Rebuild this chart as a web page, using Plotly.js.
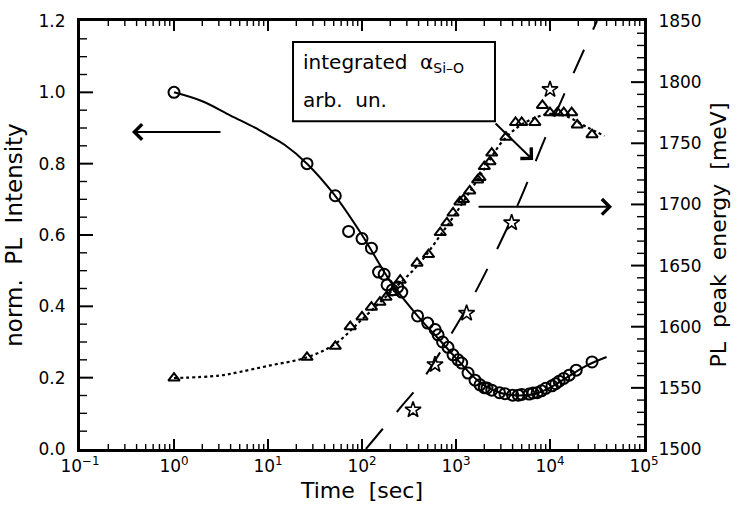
<!DOCTYPE html>
<html>
<head>
<meta charset="utf-8">
<script src="https://cdn.plot.ly/plotly-3.0.1.min.js"></script>
<style>
  html, body { margin: 0; padding: 0; background: #fff; }
  #chart { width: 746px; height: 517px; }
</style>
</head>
<body>
<div id="chart"></div>
<script>
// ---- data ----
const tCircle = [1, 26, 52, 72, 100, 126, 150, 172, 185, 210, 240, 265, 390, 500, 600, 645, 720, 822, 930, 1050, 1150, 1343, 1593, 1800, 2000, 2138, 2400, 2900, 3320, 4000, 4600, 5000, 6000, 6600, 7300, 8100, 9000, 10500, 11500, 12500, 14000, 16000, 19000, 28000];
const intensityCircle = [1.00, 0.80, 0.71, 0.61, 0.59, 0.563, 0.496, 0.49, 0.46, 0.446, 0.454, 0.44, 0.373, 0.353, 0.335, 0.32, 0.30, 0.285, 0.264, 0.25, 0.241, 0.213, 0.193, 0.18, 0.172, 0.171, 0.165, 0.158, 0.155, 0.151, 0.151, 0.153, 0.154, 0.157, 0.158, 0.163, 0.17, 0.177, 0.183, 0.19, 0.198, 0.207, 0.221, 0.244];

const tFitIntensity = [1, 2, 4, 8, 10, 15, 26, 50, 100, 200, 400, 700, 1000, 1500, 2000, 3000, 4500, 7000, 10000, 15000, 25000, 40000];
const fitIntensity = [1.0, 0.975, 0.935, 0.895, 0.88, 0.853, 0.80, 0.715, 0.60, 0.47, 0.37, 0.30, 0.255, 0.205, 0.178, 0.157, 0.150, 0.155, 0.172, 0.200, 0.235, 0.258];

const tTriangle = [1, 26, 52, 75, 100, 126, 155, 180, 215, 255, 385, 510, 680, 800, 930, 1100, 1200, 1400, 1700, 1800, 2000, 2300, 2400, 3400, 4300, 5000, 6900, 8300, 10000, 12000, 14000, 17000, 19500, 28000];
const energyTriangle = [1558, 1575, 1584, 1600, 1608, 1616, 1620, 1624, 1628, 1638, 1652, 1659, 1677, 1685, 1693, 1702, 1704, 1711, 1720, 1722, 1731, 1735, 1742, 1755, 1767, 1767, 1767, 1781, 1775, 1775, 1775, 1775, 1765, 1757];

const tFitEnergy = [1, 3, 5, 10, 26, 52, 100, 200, 400, 700, 1000, 1500, 2000, 3000, 4500, 7000, 10000, 15000, 25000, 38000];
const fitEnergy = [1558, 1560, 1563, 1568, 1575, 1586, 1606, 1628, 1651, 1676, 1693, 1714, 1729, 1750, 1763, 1771, 1774, 1772, 1763, 1756];

const tStar = [349, 598, 1297, 3909, 10000];
const energyStar = [1532, 1569, 1611, 1685, 1794];

const tDashed = [110, 264, 397, 906, 1552, 2800, 4800, 8850, 15520, 31600];
const energyDashed = [1500, 1535, 1551.5, 1595, 1626, 1665, 1704, 1754, 1797, 1850];

const xTickVals = [0.1, 1, 10, 100, 1000, 10000, 100000];
const xTickText = ['10<sup>\u22121</sup>', '10<sup>0</sup>', '10<sup>1</sup>', '10<sup>2</sup>', '10<sup>3</sup>', '10<sup>4</sup>', '10<sup>5</sup>'];
const yTickVals = [0, 0.2, 0.4, 0.6, 0.8, 1.0, 1.2];
const y2TickVals = [1500, 1550, 1600, 1650, 1700, 1750, 1800, 1850];

const FONT = 'DejaVu Sans, Arial, sans-serif';

// ---- tick-mark positions (axis decoration; half of each marker is clipped at the frame) ----
const xMajorPos = [1, 10, 100, 1000, 10000];
const xMinorPos = [];
for (let d = -1; d < 5; d++) for (let k = 2; k <= 9; k++) xMinorPos.push(k * Math.pow(10, d));
const yMajorPos = [0.2, 0.4, 0.6, 0.8, 1.0];
const yMinorPos = [];
for (let i = 1; i < 24; i++) if (i % 4 !== 0) yMinorPos.push(i * 0.05);
const y2MajorPos = [1550, 1600, 1650, 1700, 1750, 1800];
const y2MinorPos = [];
for (let v = 1510; v < 1850; v += 10) if (v % 50 !== 0) y2MinorPos.push(v);

function tickTrace(xs, ys, yaxis, symbol, size, width) {
  return { x: xs, y: ys, yaxis: yaxis, mode: 'markers', hoverinfo: 'skip', cliponaxis: true,
    marker: { symbol: symbol, size: size, color: '#000', line: { color: '#000', width: width } } };
}
const both = a => a.concat(a);
const edge = (a, lo, hi) => a.map(() => lo).concat(a.map(() => hi));

const tickTraces = [
  tickTrace(both(xMajorPos), edge(xMajorPos, 0, 1.2), 'y', 'line-ns-open', 14.3, 2),
  tickTrace(both(xMinorPos), edge(xMinorPos, 0, 1.2), 'y', 'line-ns-open', 7.2, 1.4),
  tickTrace(yMajorPos.map(() => 0.1), yMajorPos, 'y', 'line-ew-open', 18.6, 2),
  tickTrace(yMinorPos.map(() => 0.1), yMinorPos, 'y', 'line-ew-open', 10, 1.4),
  tickTrace(y2MajorPos.map(() => 100000), y2MajorPos, 'y2', 'line-ew-open', 18.6, 2),
  tickTrace(y2MinorPos.map(() => 100000), y2MinorPos, 'y2', 'line-ew-open', 10, 1.4)
];

const traces = [
  { x: tFitIntensity, y: fitIntensity, mode: 'lines', yaxis: 'y',
    line: { color: '#000', width: 2, shape: 'spline' }, hoverinfo: 'skip' },
  { x: tCircle, y: intensityCircle, mode: 'markers', yaxis: 'y',
    marker: { symbol: 'circle-open', size: 11, color: '#000', line: { width: 2, color: '#000' } } },
  { x: tFitEnergy, y: fitEnergy, mode: 'lines', yaxis: 'y2',
    line: { color: '#000', width: 2.2, dash: 'dot', shape: 'spline' }, hoverinfo: 'skip' },
  { x: tTriangle, y: energyTriangle, mode: 'markers', yaxis: 'y2',
    marker: { symbol: 'triangle-up-open', size: 10, color: '#000', line: { width: 2, color: '#000' } } },
  { x: tDashed, y: energyDashed, mode: 'lines', yaxis: 'y2',
    line: { color: '#000', width: 2, dash: '26px,22px', shape: 'spline' }, hoverinfo: 'skip' },
  { x: tStar, y: energyStar, mode: 'markers', yaxis: 'y2',
    marker: { symbol: 'star-open', size: 12, color: '#000', line: { width: 1.6, color: '#000' } } }
].concat(tickTraces);

const layout = {
  width: 746, height: 517,
  margin: { l: 80, r: 102, t: 21, b: 68, pad: 0 },
  paper_bgcolor: '#fff', plot_bgcolor: '#fff',
  showlegend: false,
  font: { family: FONT, color: '#000', size: 17 },
  xaxis: {
    type: 'log', range: [-1, 5],
    tickmode: 'array', tickvals: xTickVals, ticktext: xTickText, ticks: '',
    showline: true, linewidth: 3, linecolor: '#000', mirror: true,
    showgrid: false, zeroline: false,
    tickfont: { family: FONT, size: 17 },
    title: { text: 'Time  [sec]', font: { family: FONT, size: 22 }, standoff: 8 }
  },
  yaxis: {
    range: [0, 1.2], tickmode: 'array', tickvals: yTickVals, tickformat: '.1f', ticks: '',
    ticklabelstandoff: 8,
    showline: true, linewidth: 3, linecolor: '#000',
    showgrid: false, zeroline: false,
    tickfont: { family: FONT, size: 17 },
    title: { text: 'norm.  PL  Intensity', font: { family: FONT, size: 23 }, standoff: 10 }
  },
  yaxis2: {
    overlaying: 'y', side: 'right', anchor: 'x',
    range: [1500, 1850], tickmode: 'array', tickvals: y2TickVals, ticks: '',
    ticklabelstandoff: 8,
    showline: true, linewidth: 3, linecolor: '#000',
    showgrid: false, zeroline: false,
    tickfont: { family: FONT, size: 17 },
    title: { text: 'PL  peak  energy  [meV]', font: { family: FONT, size: 22 }, standoff: 10 }
  },
  shapes: [
    { type: 'rect', xref: 'paper', yref: 'paper', x0: 0.3777, x1: 0.7358, y0: 0.766, y1: 0.951,
      line: { color: '#000', width: 2 }, fillcolor: 'rgba(0,0,0,0)' }
  ],
  annotations: [
    { xref: 'paper', yref: 'paper', x: 0.392, y: 0.902, xanchor: 'left', yanchor: 'middle',
      text: 'integrated  \u03b1<sub>Si\u2013O</sub>', showarrow: false, font: { family: FONT, size: 20 } },
    { xref: 'paper', yref: 'paper', x: 0.392, y: 0.815, xanchor: 'left', yanchor: 'middle',
      text: 'arb.  un.', showarrow: false, font: { family: FONT, size: 20 } },
    // left arrow (points to left axis)
    { xref: 'x', yref: 'y', x: -0.447, y: 0.889, ax: 90, ay: 0, text: '', showarrow: true,
      arrowhead: 4, arrowsize: 1.5, arrowwidth: 2, arrowcolor: '#000' },
    // right arrow (points to right axis)
    { xref: 'x', yref: 'y2', x: 4.66, y: 1698, ax: -135, ay: 0, text: '', showarrow: true,
      arrowhead: 4, arrowsize: 1.5, arrowwidth: 2, arrowcolor: '#000' },
    // arrow from box corner
    { xref: 'x', yref: 'y', x: 3.82, y: 0.81, ax: -39, ay: -38, text: '', showarrow: true,
      arrowhead: 4, arrowsize: 1.5, arrowwidth: 2, arrowcolor: '#000' }
  ]
};

Plotly.newPlot('chart', traces, layout, { displayModeBar: false });
</script>
</body>
</html>
